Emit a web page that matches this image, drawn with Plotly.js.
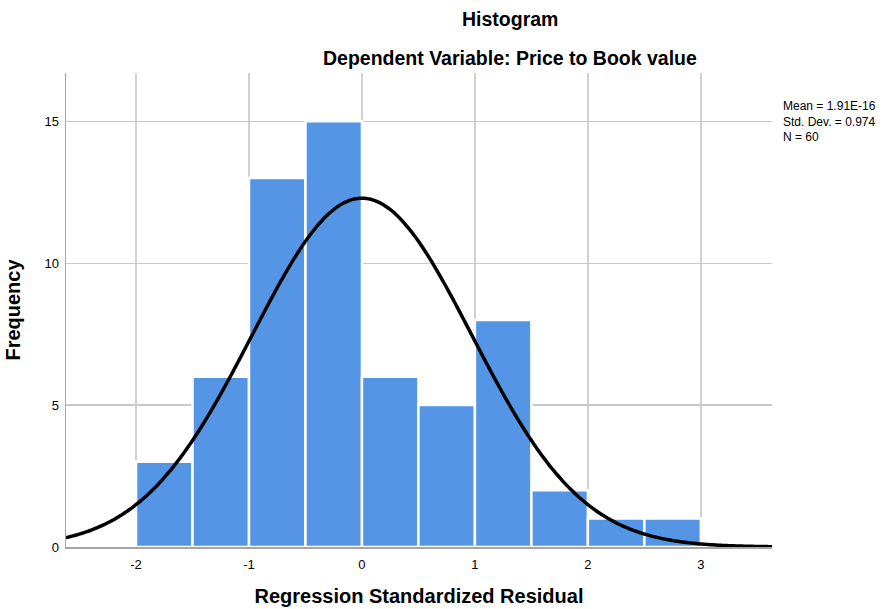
<!DOCTYPE html>
<html>
<head>
<meta charset="utf-8">
<script src="https://cdn.plot.ly/plotly-3.0.1.min.js"></script>
<style>html,body{margin:0;padding:0;background:#fff;}#chart{width:887px;height:609px;}</style>
</head>
<body>
<div id="chart"></div>
<script>
// Data
const binCenters = [-1.75, -1.25, -0.75, -0.25, 0.25, 0.75, 1.25, 1.75, 2.25, 2.75];
const counts = [3, 6, 13, 15, 6, 5, 8, 2, 1, 1];
const binWidth = 0.5;
const meanVal = 1.91e-16;
const sdVal = 0.974;
const nVal = 60;
const statLines = ["Mean = 1.91E-16", "Std. Dev. = 0.974", "N = 60"];
const xTickVals = [-2, -1, 0, 1, 2, 3];
const xTickText = ["-2", "-1", "0", "1", "2", "3"];
const yTickVals = [0, 5, 10, 15];
const yTickText = ["0", "5", "10", "15"];
const xRange = [-2.62, 3.63];
const yRange = [0, 16.7];

// Fitted normal curve from the stated mean, std. dev. and N
const curveX = [], curveY = [];
const steps = 300;
for (let i = 0; i <= steps; i++) {
  const x = xRange[0] + (xRange[1] - xRange[0]) * i / steps;
  const z = (x - meanVal) / sdVal;
  curveX.push(x);
  curveY.push(nVal * binWidth * Math.exp(-0.5 * z * z) / (sdVal * Math.sqrt(2 * Math.PI)));
}

const font = "Liberation Sans, Arial, sans-serif";
const data = [
  {
    type: "bar", x: binCenters, y: counts, width: binWidth,
    marker: {color: "#5595e5", line: {color: "#ffffff", width: 2.5}},
    hoverinfo: "x+y", showlegend: false
  },
  {
    type: "scatter", mode: "lines", x: curveX, y: curveY,
    line: {color: "#000000", width: 3.5, shape: "spline"},
    hoverinfo: "skip", showlegend: false
  }
];
const layout = {
  width: 887, height: 609,
  margin: {l: 66, r: 115, t: 73, b: 62},
  paper_bgcolor: "#ffffff", plot_bgcolor: "#ffffff",
  font: {family: font, color: "#000000", size: 13},
  showlegend: false,
  xaxis: {
    range: xRange, tickvals: xTickVals, ticktext: xTickText,
    showgrid: true, gridcolor: "#d0d0d0", gridwidth: 1.5,
    showline: true, linecolor: "#a6a6a6", linewidth: 1.5,
    zeroline: false, ticks: "outside", ticklen: 5, tickcolor: "rgba(0,0,0,0)",
    tickfont: {family: font, size: 13, color: "#000"},
    title: {text: "<b>Regression Standardized Residual</b>", font: {family: font, size: 20, color: "#000"}, standoff: 18}
  },
  yaxis: {
    range: yRange, tickvals: yTickVals, ticktext: yTickText,
    showgrid: true, gridcolor: "#c8c8c8", gridwidth: 1.2,
    showline: true, linecolor: "#a6a6a6", linewidth: 1.5,
    zeroline: false, ticks: "outside", ticklen: 3, tickcolor: "rgba(0,0,0,0)",
    tickfont: {family: font, size: 13, color: "#000"},
    title: {text: "<b>Frequency</b>", font: {family: font, size: 20, color: "#000"}, standoff: 18}
  },
  annotations: [
    {text: "<b>Histogram</b>", xref: "paper", yref: "paper", x: 0.629, y: 1, yshift: 54,
     xanchor: "center", yanchor: "middle", showarrow: false, font: {family: font, size: 19.5, color: "#000"}},
    {text: "<b>Dependent Variable: Price to Book value</b>", xref: "paper", yref: "paper", x: 0.629, y: 1, yshift: 15,
     xanchor: "center", yanchor: "middle", showarrow: false, font: {family: font, size: 19.5, color: "#000"}},
    {text: statLines.join("<br>"), xref: "paper", yref: "paper", x: 1, xshift: 9, y: 1, yshift: 73 - 121,
     xanchor: "left", yanchor: "middle", align: "left", showarrow: false,
     font: {family: font, size: 12, color: "#000"}}
  ]
};
Plotly.newPlot("chart", data, layout, {displayModeBar: false, staticPlot: true});
</script>
</body>
</html>
